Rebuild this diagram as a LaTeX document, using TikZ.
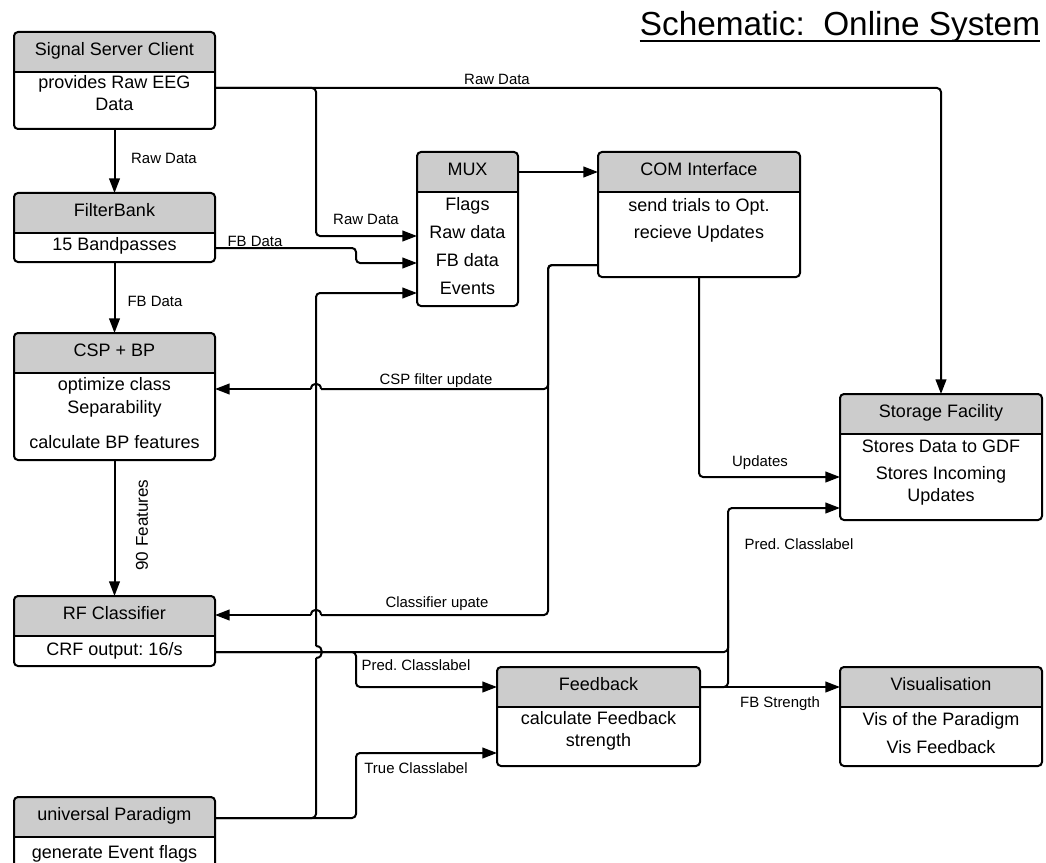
\documentclass[tikz,border=0pt]{standalone}
\usepackage{fontspec}
\setmainfont{Liberation Sans}
\usetikzlibrary{arrows.meta,calc}
\definecolor{hdrgray}{HTML}{CCCCCC}
\frenchspacing
\tikzset{
  boxframe/.style={draw, line width=1.5pt, rounded corners=3pt, inner sep=0pt,
    outer sep=0pt, anchor=north west, fill=white},
  boxtext/.style={font=\fontsize{13.5}{16}\selectfont, inner sep=0pt, anchor=base},
  lbl/.style={font=\fontsize{11.2}{13}\selectfont, inner sep=0pt},
  conn/.style={line width=1.5pt, rounded corners=3pt},
  arr/.style={-{Triangle[length=11pt,width=8pt]}},
}
% box with grey header band: name, x, y, width, height (px units)
\newcommand\flowbox[5]{%
  \node[boxframe, minimum width=#4*0.75pt, minimum height=#5*0.75pt,
    path picture={
      \fill[hdrgray] (path picture bounding box.north west) rectangle
        ([yshift=-30pt]path picture bounding box.north east);
      \draw[line width=1.5pt] ([yshift=-30pt]path picture bounding box.north west) --
        ([yshift=-30pt]path picture bounding box.north east);
    }] (#1) at (#2,#3) {};}
\begin{document}
\begin{tikzpicture}[x=0.75pt, y=-0.75pt]
\useasboundingbox (0,0) rectangle (1046,863);

% title
\node[font=\fontsize{25}{28}\selectfont, inner sep=0pt, anchor=base] (title) at (840,36) {Schematic:\ \ Online System};
\draw[line width=1.5pt] ($(title.base west)+(0,5)$) -- ($(title.base east)+(0,5)$);

% boxes
\flowbox{ssc}{14}{32}{201}{97}
\flowbox{fb}{14}{193}{201}{69}
\flowbox{csp}{14}{333}{201}{127}
\flowbox{rf}{14}{596}{201}{70}
\flowbox{univ}{14}{797}{201}{80}
\flowbox{mux}{417}{152}{101}{154}
\flowbox{com}{598}{152}{202}{125}
\flowbox{stor}{840}{394}{202}{126}
\flowbox{fbk}{497}{667}{203}{99}
\flowbox{vis}{840}{667}{202}{99}

% box texts
\node[boxtext] (ssc-h)  at ($(ssc.north)+(0,23.5)$) {Signal Server Client};
\node[boxtext] (ssc-b1) at ($(ssc.north)+(0,57)$) {provides Raw EEG};
\node[boxtext] (ssc-b2) at ($(ssc.north)+(0,78.5)$) {Data};

\node[boxtext] (fb-h)  at ($(fb.north)+(0,23.5)$) {FilterBank};
\node[boxtext] (fb-b1) at ($(fb.north)+(0,57.5)$) {15 Bandpasses};

\node[boxtext] (csp-h)  at ($(csp.north)+(0,23.5)$) {CSP + BP};
\node[boxtext] (csp-b1) at ($(csp.north)+(0,57.5)$) {optimize class};
\node[boxtext] (csp-b2) at ($(csp.north)+(0,80.5)$) {Separability};
\node[boxtext] (csp-b3) at ($(csp.north)+(0,115.5)$) {calculate BP features};

\node[boxtext] (rf-h)  at ($(rf.north)+(0,23.5)$) {RF Classifier};
\node[boxtext] (rf-b1) at ($(rf.north)+(0,59.5)$) {CRF output: 16/s};

\node[boxtext] (univ-h)  at ($(univ.north)+(0,23.5)$) {universal Paradigm};
\node[boxtext] (univ-b1) at ($(univ.north)+(0,61.5)$) {generate Event flags};

\node[boxtext] (mux-h)  at ($(mux.north)+(0,23.5)$) {MUX};
\node[boxtext] (mux-b1) at ($(mux.north)+(0,58.5)$) {Flags};
\node[boxtext] (mux-b2) at ($(mux.north)+(0,86.5)$) {Raw data};
\node[boxtext] (mux-b3) at ($(mux.north)+(0,114.5)$) {FB data};
\node[boxtext] (mux-b4) at ($(mux.north)+(0,142.5)$) {Events};

\node[boxtext] (com-h)  at ($(com.north)+(0,23.5)$) {COM Interface};
\node[boxtext] (com-b1) at ($(com.north)+(0,59.5)$) {send trials to Opt.};
\node[boxtext] (com-b2) at ($(com.north)+(0,86.5)$) {recieve Updates};

\node[boxtext] (stor-h)  at ($(stor.north)+(0,23.5)$) {Storage Facility};
\node[boxtext] (stor-b1) at ($(stor.north)+(0,58.5)$) {Stores Data to GDF};
\node[boxtext] (stor-b2) at ($(stor.north)+(0,85.5)$) {Stores Incoming};
\node[boxtext] (stor-b3) at ($(stor.north)+(0,107.5)$) {Updates};

\node[boxtext] (fbk-h)  at ($(fbk.north)+(0,23.5)$) {Feedback};
\node[boxtext] (fbk-b1) at ($(fbk.north)+(0,57.5)$) {calculate Feedback};
\node[boxtext] (fbk-b2) at ($(fbk.north)+(0,79.5)$) {strength};

\node[boxtext] (vis-h)  at ($(vis.north)+(0,23.5)$) {Visualisation};
\node[boxtext] (vis-b1) at ($(vis.north)+(0,58.5)$) {Vis of the Paradigm};
\node[boxtext] (vis-b2) at ($(vis.north)+(0,86.5)$) {Vis Feedback};

% connection points on box edges
\coordinate (ssc-o)  at ($(ssc.north east)+(0,56)$);
\coordinate (rf-o)   at ($(rf.north east)+(0,56)$);
\coordinate (univ-o) at ($(univ.north east)+(0,21)$);
\coordinate (fbk-o)  at ($(fbk.north east)+(0,20)$);
\coordinate (com-o)  at ($(com.north west)+(0,113)$);

% raw data paths
\draw[conn,arr] (ssc.south) -- (fb.north);
\draw[conn,arr] (ssc-o) -| (316,236) -- ($(mux.north west)+(0,84)$);
\draw[conn,arr] (ssc-o) -| (stor.north);

% filter bank outputs
\draw[conn,arr] ($(fb.north east)+(0,55)$) -- (356,248) -- (356,263) -- ($(mux.north west)+(0,111)$);
\draw[conn,arr] (fb.south) -- (csp.north);
\draw[conn,arr] (csp.south) -- (rf.north);

% paradigm event flags up to the MUX, hopping the classifier output
\draw[conn] (univ-o) -| (316,658);
\draw[conn] (316,658) .. controls (324,658) and (324,646) .. (316,646);
\draw[conn,arr] (316,646) |- ($(mux.north west)+(0,141)$);
\draw[conn,arr] (univ-o) -| (356,753) -- ($(fbk.north west)+(0,86)$);

% classifier output
\draw[conn,arr] (rf-o) -| (728,508) -- ($(stor.north west)+(0,114)$);
\draw[conn,arr] (rf-o) -| (356,687) -- ($(fbk.north west)+(0,20)$);

% feedback outputs
\draw[conn,arr] (fbk-o) -- ($(vis.north west)+(0,20)$);
\draw[conn] (fbk-o) -| (728,600);

% MUX to COM interface
\draw[conn,arr] ($(mux.north east)+(0,20)$) -- ($(com.north west)+(0,20)$);

% updates sent back from the COM interface
\draw[conn] (com-o) -| (548,389) -- (321,389);
\draw[conn] (321,389) .. controls (321,382) and (311,382) .. (311,389);
\draw[conn,arr] (311,389) -- ($(csp.north east)+(0,56)$);
\draw[conn] (com-o) -| (548,615) -- (321,615);
\draw[conn] (321,615) .. controls (321,608) and (311,608) .. (311,615);
\draw[conn,arr] (311,615) -- ($(rf.north east)+(0,19)$);
\draw[conn,arr] (com.south) |- ($(stor.north west)+(0,83)$);

% connector labels
\node[lbl] (l-raw1) at (164,158) {Raw Data};
\node[lbl] (l-raw2) at (366,219) {Raw Data};
\node[lbl] (l-raw3) at (497,79) {Raw Data};
\node[lbl] (l-fb1) at (255,241) {FB Data};
\node[lbl] (l-fb2) at (155,301) {FB Data};
\node[lbl, font=\fontsize{12.8}{15}\selectfont, rotate=90] (l-feat) at (142,525) {90 Features};
\node[lbl] (l-csp) at (436,381) {CSP filter update};
\node[lbl] (l-cls) at (437,604) {Classifier upate};
\node[lbl] (l-upd) at (760,463) {Updates};
\node[lbl] (l-pred1) at (799,544) {Pred. Classlabel};
\node[lbl] (l-pred2) at (416,665) {Pred. Classlabel};
\node[lbl] (l-true) at (416,768) {True Classlabel};
\node[lbl] (l-fbs) at (780,704) {FB Strength};
\end{tikzpicture}
\end{document}
